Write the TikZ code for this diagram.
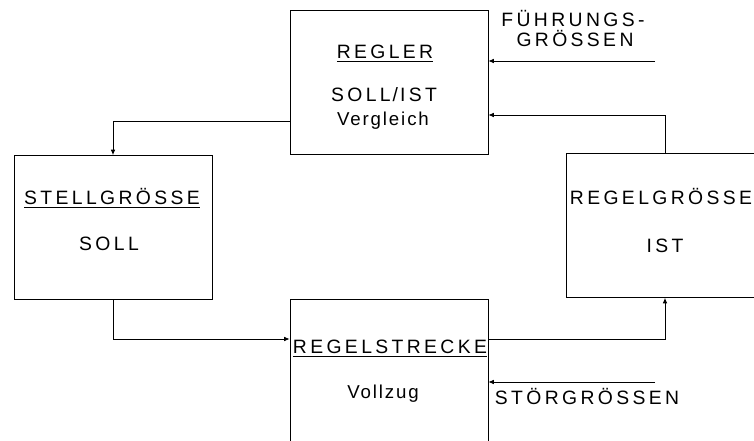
\documentclass[tikz,border=0pt]{standalone}
\usepackage{fontspec}
\setmainfont{Liberation Sans}
\newfontfamily\capsfont[LetterSpace=17.5]{Liberation Sans}
\newfontfamily\lowfont[LetterSpace=10]{Liberation Sans}
\usetikzlibrary{arrows.meta,positioning,calc}

\begin{document}
\begin{tikzpicture}[x=0.75pt,y=-0.75pt,
  blockbox/.style={draw,line width=0.65pt,minimum width=148.5pt,minimum height=108pt,inner sep=0pt},
  capstxt/.style={anchor=base,inner sep=0pt,font=\fontsize{14.5}{17}\capsfont},
  lowtxt/.style={anchor=base,inner sep=0pt,font=\fontsize{14}{17}\lowfont},
  arr/.style={-{Latex[length=4pt,width=3.5pt]},line width=0.6pt}
]
\useasboundingbox (0,0) rectangle (754,441);
\clip (0,0) rectangle (754,441);
% blocks
\node[blockbox] (regler) at (389,82) {};
\node[blockbox] (stell) at (113,227.5) {};
\node[blockbox] (strecke) at (389,371) {};
\node[blockbox] (ist) at (665,225.5) {};
% texts in the blocks
\node[capstxt] (reglerT) at (385,59) {\underline{REGLER}};
\node[capstxt] (reglerS) at (384,102) {\spaceskip=1.5pt SOLL / IST};
\node[lowtxt] (reglerV) at (383,126) {Vergleich};
\node[capstxt] (stellT) at (112,205) {\underline{STELLGRÖSSE}};
\node[capstxt] (stellS) at (109,251) {SOLL};
\node[capstxt] (istT) at (661,205) {REGELGRÖSSE};
\node[capstxt] (istS) at (665,253) {IST};
\node[capstxt] (streckeT) at (390,354) {\underline{REGELSTRECKE}};
\node[lowtxt] (streckeV) at (383,399) {Vollzug};
% outer inputs
\node[capstxt] (fuehrA) at (573,27) {FÜHRUNGS-};
\node[capstxt] (fuehrB) at (575,47) {GRÖSSEN};
\node[capstxt] (stoer) at (587,405) {STÖRGRÖSSEN};
\coordinate (fin) at (655,61);
\coordinate (sin) at (655,382);
% connectors
\draw[arr] (fin) -- (regler.east |- fin);
\draw[arr] (ist.north) |- ($(regler.east)+(0,33)$);
\draw[arr] ($(regler.west)+(0,39)$) -| (stell.north);
\draw[arr] (stell.south) |- ($(strecke.west)+(0,-32)$);
\draw[arr] ($(strecke.east)+(0,-32)$) -| (ist.south);
\draw[arr] (sin) -- (strecke.east |- sin);
\end{tikzpicture}
\end{document}
